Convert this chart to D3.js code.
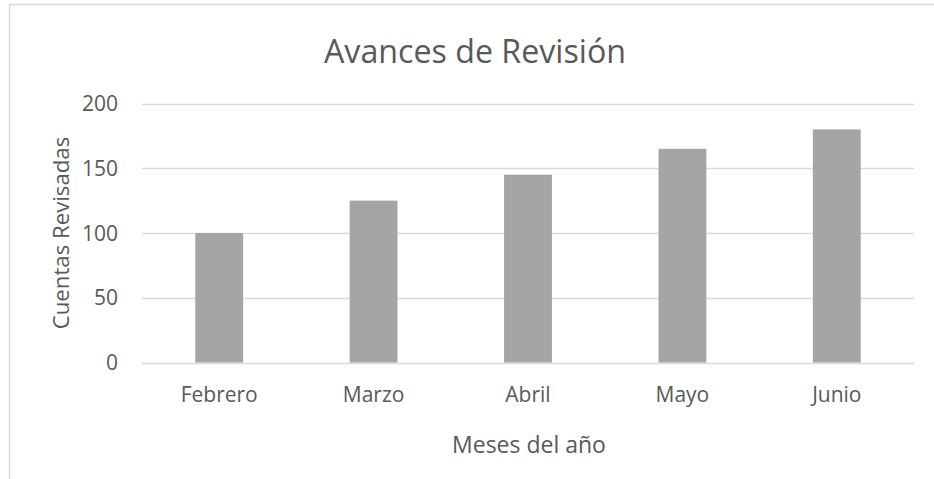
<!DOCTYPE html>
<html>
<head>
<meta charset="utf-8">
<script src="https://cdn.jsdelivr.net/npm/d3@7"></script>
<style>
  body { margin: 0; background: #fff; }
  text { font-family: "Open Sans", Lato, sans-serif; fill: #595959; }
</style>
</head>
<body>
<div id="chart"></div>
<script>
// data
const months = ["Febrero", "Marzo", "Abril", "Mayo", "Junio"];
const reviewed = [100, 125, 145, 165, 180];
const yTicks = [0, 50, 100, 150, 200];

const W = 934, H = 479;
const plot = { left: 142, right: 914, top: 103.5, bottom: 362.5 };

const svg = d3.select("#chart")
    .append("svg")
    .attr("width", W)
    .attr("height", H);

// chart frame (runs off the right and bottom edge in the original)
svg.append("rect")
    .attr("x", 9.5).attr("y", 4.5)
    .attr("width", W + 20).attr("height", H + 20)
    .attr("fill", "none")
    .attr("stroke", "#d9d9d9")
    .attr("stroke-width", 1.5);

const x = d3.scaleBand()
    .domain(months)
    .range([plot.left, plot.right])
    .paddingInner(0.69)
    .paddingOuter(0.345);

const y = d3.scaleLinear()
    .domain([0, 200])
    .range([plot.bottom, plot.top]);

// gridlines
svg.append("g")
    .selectAll("line")
    .data(yTicks)
    .join("line")
    .attr("x1", plot.left).attr("x2", plot.right)
    .attr("y1", d => Math.round(y(d)) + 0.5)
    .attr("y2", d => Math.round(y(d)) + 0.5)
    .attr("stroke", "#d9d9d9")
    .attr("stroke-width", 1.5);

// y tick labels
svg.append("g")
    .selectAll("text")
    .data(yTicks)
    .join("text")
    .attr("x", 118)
    .attr("y", d => y(d))
    .attr("dy", "0.36em")
    .attr("text-anchor", "end")
    .attr("font-size", 21)
    .text(d => d);

// bars
svg.append("g")
    .selectAll("rect")
    .data(reviewed)
    .join("rect")
    .attr("x", (d, i) => x(months[i]))
    .attr("y", d => y(d))
    .attr("width", x.bandwidth())
    .attr("height", d => y(0) - y(d))
    .attr("fill", "#a5a5a5");

// x tick labels
svg.append("g")
    .selectAll("text")
    .data(months)
    .join("text")
    .attr("x", d => x(d) + x.bandwidth() / 2)
    .attr("y", 402)
    .attr("text-anchor", "middle")
    .attr("font-size", 21)
    .text(d => d);

// title
svg.append("text")
    .attr("x", 475)
    .attr("y", 63)
    .attr("text-anchor", "middle")
    .attr("font-size", 32.2)
    .text("Avances de Revisión");

// axis titles
svg.append("text")
    .attr("x", 529)
    .attr("y", 453)
    .attr("text-anchor", "middle")
    .attr("font-size", 23)
    .text("Meses del año");

svg.append("text")
    .attr("transform", "translate(69,233) rotate(-90)")
    .attr("text-anchor", "middle")
    .attr("font-size", 22.2)
    .text("Cuentas Revisadas");
</script>
</body>
</html>
